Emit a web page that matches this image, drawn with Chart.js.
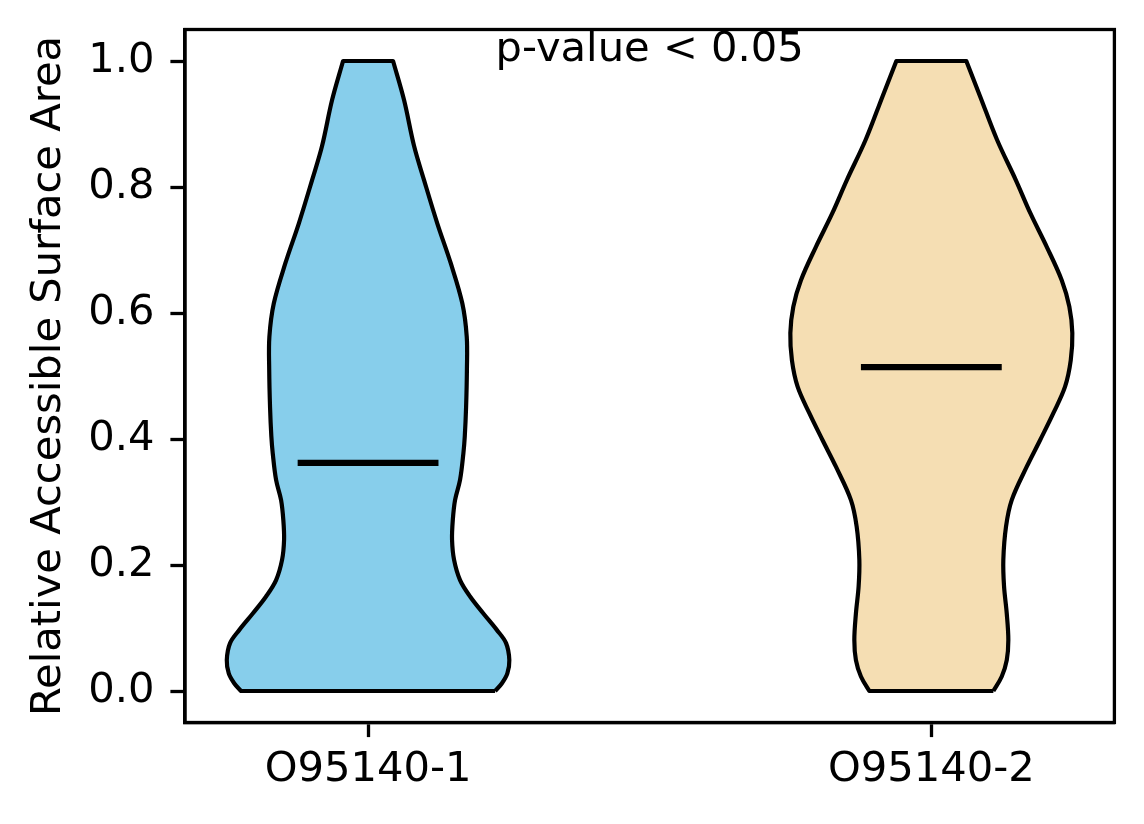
<!DOCTYPE html>
<html lang="en">
<head>
  <meta charset="UTF-8" />
  <title>Relative Accessible Surface Area</title>
  <script src="https://cdn.jsdelivr.net/npm/chart.js"></script>
  <style>
    body {
      margin: 0;
      background: #ffffff;
    }
    canvas {
      display: block;
    }
  </style>
</head>
<body>
  <canvas id="violinCanvas" width="1144" height="824"></canvas>

  <script>
    // categories and their x positions
    const categories = ['O95140-1', 'O95140-2'];
    const positions = [1, 2];
    const fillColors = ['#87CEEB', '#F5DEB3'];

    // violin outlines: y level and half width (x units)
    const levels1 = [0.000, 0.012, 0.028, 0.049, 0.076, 0.097, 0.123, 0.150, 0.176, 0.208, 0.240, 0.271,
                     0.303, 0.335, 0.377, 0.404, 0.450, 0.510, 0.562, 0.615, 0.679, 0.742, 0.811,
                     0.865, 0.938, 1.000];
    const halfWidth1 = [0.2255, 0.2374, 0.2473, 0.2508, 0.2450, 0.2285, 0.2047, 0.1811, 0.1633, 0.1527, 0.1491, 0.1504,
                        0.1544, 0.1633, 0.1692, 0.1717, 0.1740, 0.1755, 0.1752, 0.1674, 0.1468, 0.1230, 0.0994,
                        0.0817, 0.0639, 0.0444];

    const levels2 = [0.000, 0.023, 0.049, 0.081, 0.123, 0.166, 0.208, 0.261, 0.303, 0.356, 0.398, 0.441,
                     0.483, 0.525, 0.568, 0.610, 0.652, 0.705, 0.758, 0.811, 0.875, 0.943, 1.000];
    const halfWidth2 = [0.1101, 0.1250, 0.1339, 0.1367, 0.1339, 0.1291, 0.1278, 0.1326, 0.1427, 0.1694, 0.1930, 0.2166,
                        0.2374, 0.2475, 0.2503, 0.2450, 0.2315, 0.2049, 0.1760, 0.1500, 0.1166, 0.0870, 0.0621];

    const medians = [0.362, 0.514];
    const medianHalfLen = 0.125;

    const yTicks = [0.0, 0.2, 0.4, 0.6, 0.8, 1.0];
    const xRange = [0.675, 2.325];
    const yRange = [-0.05, 1.05];

    const yTitle = 'Relative Accessible Surface Area';
    const noteText = 'p-value < 0.05';
    const noteAt = { x: 1.5, y: 1.0 };

    const FONT = '"DejaVu Sans", "Liberation Sans", sans-serif';
    const FSIZE = 41.67;

    // closed outline; corner points repeated so the spline keeps flat ends sharp
    function outline(center, levels, hw) {
      const right = levels.map((y, i) => ({ x: center + hw[i], y: y }));
      const left = levels.map((y, i) => ({ x: center - hw[i], y: y })).reverse();
      const n = right.length - 1;
      return right.concat([right[n], left[0]], left, [left[n], right[0]]);
    }

    const bodies = [
      outline(positions[0], levels1, halfWidth1),
      outline(positions[1], levels2, halfWidth2)
    ];

    const datasets = [];
    // medians first so they end up on top
    medians.forEach((m, i) => {
      datasets.push({
        data: [{ x: positions[i] - medianHalfLen, y: m }, { x: positions[i] + medianHalfLen, y: m }],
        borderColor: '#000000',
        borderWidth: 6.2,
        pointRadius: 0,
        fill: false,
        order: 0
      });
    });
    bodies.forEach((pts, i) => {
      datasets.push({
        data: pts,
        borderColor: '#000000',
        backgroundColor: fillColors[i],
        borderWidth: 4.2,
        borderJoinStyle: 'round',
        pointRadius: 0,
        tension: 0.35,
        fill: 'shape',
        order: 1
      });
    });

    // top/right spines and the p-value note
    const framePlugin = {
      id: 'frame',
      afterDraw(chart) {
        const { ctx, chartArea, scales } = chart;
        ctx.save();
        ctx.strokeStyle = '#000000';
        ctx.lineWidth = 3.3;
        ctx.strokeRect(chartArea.left, chartArea.top, chartArea.right - chartArea.left, chartArea.bottom - chartArea.top);
        ctx.fillStyle = '#000000';
        ctx.font = FSIZE + 'px ' + FONT;
        ctx.textAlign = 'center';
        ctx.textBaseline = 'alphabetic';
        ctx.fillText(noteText, scales.x.getPixelForValue(noteAt.x), scales.y.getPixelForValue(noteAt.y));
        ctx.restore();
      }
    };

    new Chart(document.getElementById('violinCanvas'), {
      type: 'line',
      data: { datasets: datasets },
      plugins: [framePlugin],
      options: {
        animation: false,
        responsive: false,
        events: [],
        layout: { padding: { top: 29.5, right: 29.6, left: 0, bottom: 0 } },
        plugins: {
          legend: { display: false },
          tooltip: { enabled: false }
        },
        scales: {
          x: {
            type: 'linear',
            min: xRange[0],
            max: xRange[1],
            afterBuildTicks: (s) => { s.ticks = positions.map(v => ({ value: v })); },
            afterFit: (s) => { s.height = 101.5; s.paddingLeft = 0; s.paddingRight = 0; },
            ticks: {
              color: '#000000',
              padding: 8,
              maxRotation: 0,
              font: { family: FONT, size: FSIZE, lineHeight: 1.2 },
              callback: (v) => categories[positions.indexOf(v)]
            },
            grid: {
              drawOnChartArea: false,
              tickLength: 14.6,
              tickWidth: 3.3,
              tickColor: '#000000'
            },
            border: { display: true, color: '#000000', width: 3.3 }
          },
          y: {
            type: 'linear',
            min: yRange[0],
            max: yRange[1],
            afterBuildTicks: (s) => { s.ticks = yTicks.map(v => ({ value: v })); },
            afterFit: (s) => { s.width = 185; s.paddingTop = 0; s.paddingBottom = 0; },
            ticks: {
              color: '#000000',
              padding: 16,
              font: { family: FONT, size: FSIZE, lineHeight: 1.2 },
              callback: (v) => v.toFixed(1)
            },
            grid: {
              drawOnChartArea: false,
              tickLength: 14.6,
              tickWidth: 3.3,
              tickColor: '#000000'
            },
            border: { display: true, color: '#000000', width: 3.3 },
            title: {
              display: true,
              text: yTitle,
              color: '#000000',
              padding: { top: 24, bottom: 0 },
              font: { family: FONT, size: FSIZE, lineHeight: 1.2 }
            }
          }
        }
      }
    });
  </script>
</body>
</html>
